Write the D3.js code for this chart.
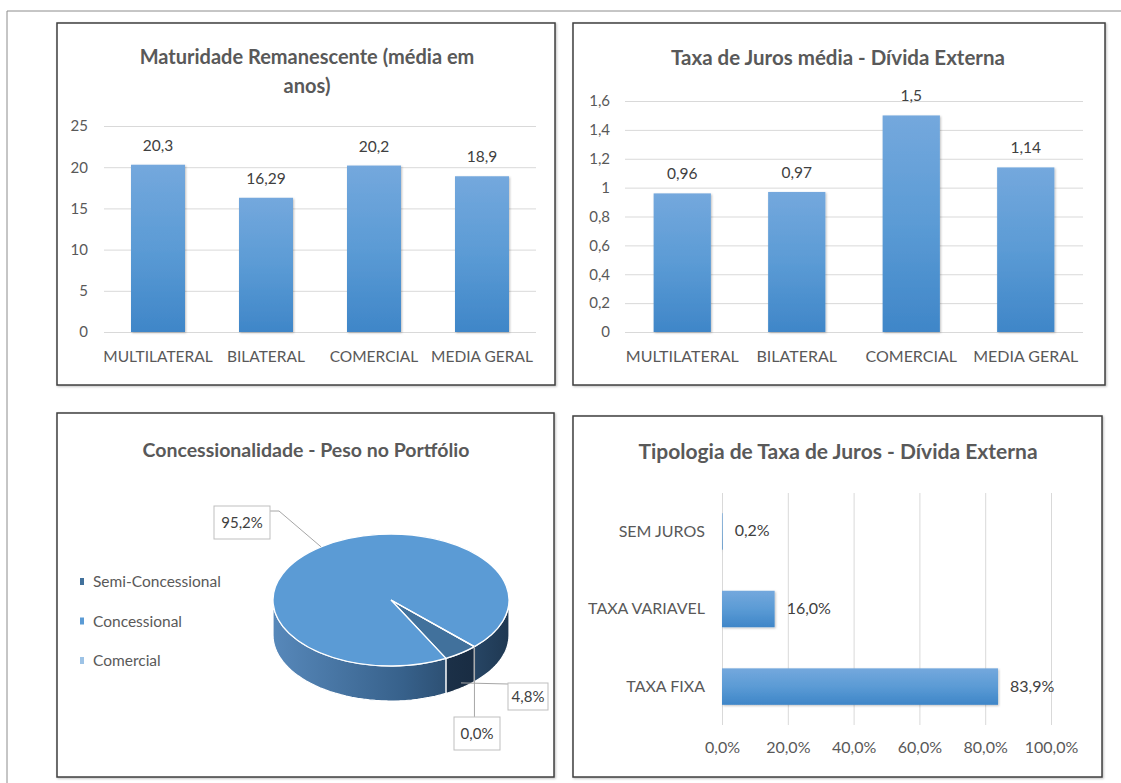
<!DOCTYPE html>
<html>
<head>
<meta charset="utf-8">
<script src="https://cdn.jsdelivr.net/npm/d3@7"></script>
<style>
  body { margin: 0; background: #fff; }
  text { font-family: Lato, "Open Sans", sans-serif; }
</style>
</head>
<body>
<div id="chart"></div>
<script>
// data
var matCats = ["MULTILATERAL", "BILATERAL", "COMERCIAL", "MEDIA GERAL"];
var matVals = [20.3, 16.29, 20.2, 18.9];
var matTicks = [0, 5, 10, 15, 20, 25];

var taxaCats = ["MULTILATERAL", "BILATERAL", "COMERCIAL", "MEDIA GERAL"];
var taxaVals = [0.96, 0.97, 1.5, 1.14];
var taxaTicks = [0, 0.2, 0.4, 0.6, 0.8, 1, 1.2, 1.4, 1.6];

var concNames = ["Semi-Concessional", "Concessional", "Comercial"];
var concVals = [4.8, 95.2, 0.0];
var concColors = ["#41719c", "#5b9bd5", "#9dc3e6"];

var tipCats = ["SEM JUROS", "TAXA VARIAVEL", "TAXA FIXA"];
var tipVals = [0.2, 16.0, 83.9];
var tipTicks = [0, 20, 40, 60, 80, 100];

var W = 1121, H = 783;
var txt = "#595959";

var svg = d3.select('#chart')
            .append('svg')
            .attr('width', W)
            .attr('height', H);

var defs = svg.append('defs');

var gv = defs.append('linearGradient').attr('id', 'barGrad')
             .attr('x1', 0).attr('y1', 0).attr('x2', 0).attr('y2', 1);
gv.append('stop').attr('offset', '0%').attr('stop-color', '#74a8dd');
gv.append('stop').attr('offset', '50%').attr('stop-color', '#5b9bd5');
gv.append('stop').attr('offset', '100%').attr('stop-color', '#3f86c8');

var sh = defs.append('filter').attr('id', 'shadow')
             .attr('x', '-20%').attr('y', '-20%').attr('width', '140%').attr('height', '140%');
sh.append('feDropShadow').attr('dx', 1).attr('dy', 1).attr('stdDeviation', 1.2)
  .attr('flood-color', '#000').attr('flood-opacity', 0.25);

function comma(v) { return String(v).replace('.', ','); }
function pct(v) { return d3.format('.1f')(v).replace('.', ',') + '%'; }

// outer frame
svg.append('line').attr('x1', 7).attr('y1', 11).attr('x2', W).attr('y2', 11)
   .attr('stroke', '#8c8c8c').attr('stroke-width', 1);
svg.append('line').attr('x1', 7).attr('y1', 11).attr('x2', 7).attr('y2', H)
   .attr('stroke', '#8c8c8c').attr('stroke-width', 1);

function panel(x, y, w, h) {
    svg.append('rect').attr('x', x).attr('y', y).attr('width', w).attr('height', h)
       .attr('fill', '#fff').attr('stroke', '#3f3f3f').attr('stroke-width', 1.5)
       .attr('filter', 'url(#shadow)');
}

function title(lines, cx, y0, size) {
    lines.forEach(function(t, i) {
        svg.append('text').attr('x', cx).attr('y', y0 + i * 29)
           .attr('text-anchor', 'middle')
           .style('font-size', size + 'px').style('font-weight', 'bold')
           .style('fill', txt).text(t);
    });
}

function vbars(cats, vals, ticks, x0, x1, yTop, yBot, yMax, padL, catSize) {
    var x = d3.scaleBand().domain(cats).range([x0, x1])
              .paddingInner(0.5).paddingOuter(0.25);
    var y = d3.scaleLinear().domain([0, yMax]).range([yBot, yTop]);
    var g = svg.append('g');

    var yAxis = d3.axisLeft(y).tickValues(ticks).tickSize(-(x1 - x0))
                  .tickPadding(padL).tickFormat(comma);
    g.append('g').attr('transform', 'translate(' + x0 + ',0)').call(yAxis)
     .call(function(a) {
         a.select('.domain').remove();
         a.selectAll('line').attr('stroke', '#d9d9d9');
         a.selectAll('text').style('font-size', '15px').style('fill', txt)
          .style('font-family', 'Lato, sans-serif');
     });

    var xAxis = d3.axisBottom(x).tickSize(0).tickPadding(19);
    g.append('g').attr('transform', 'translate(0,' + yBot + ')').call(xAxis)
     .call(function(a) {
         a.select('.domain').remove();
         a.selectAll('text').style('font-size', catSize + 'px').style('fill', txt)
          .style('font-family', 'Lato, sans-serif');
     });

    g.selectAll('rect.bar').data(vals).enter().append('rect')
     .attr('class', 'bar')
     .attr('x', function(d, i) { return x(cats[i]); })
     .attr('y', function(d) { return y(d); })
     .attr('width', x.bandwidth())
     .attr('height', function(d) { return yBot - y(d); })
     .attr('fill', 'url(#barGrad)')
     .attr('filter', 'url(#shadow)');

    g.selectAll('text.val').data(vals).enter().append('text')
     .attr('class', 'val')
     .attr('x', function(d, i) { return x(cats[i]) + x.bandwidth() / 2; })
     .attr('y', function(d) { return y(d) - 14; })
     .attr('text-anchor', 'middle')
     .style('font-size', '15.5px').style('fill', '#404040')
     .text(comma);
}

// panel 1 - maturidade
panel(57, 23, 498, 362);
title(["Maturidade Remanescente (média em", "anos)"], 307, 64, 20);
vbars(matCats, matVals, matTicks, 104, 536, 126, 332, 25, 16, 15.5);

// panel 2 - taxa de juros media
panel(573, 23, 532, 362);
title(["Taxa de Juros média - Dívida Externa"], 838, 65, 20.5);
vbars(taxaCats, taxaVals, taxaTicks, 625, 1083, 101, 332, 1.6, 15, 16);

// panel 3 - concessionalidade (3D pie)
panel(57, 413, 497, 364);
title(["Concessionalidade - Peso no Portfólio"], 306, 457, 19.5);

legendItems = svg.append('g');
concNames.forEach(function(n, i) {
    var ly = 582 + i * 39.5;
    legendItems.append('rect').attr('x', 80).attr('y', ly - 4).attr('width', 4).attr('height', 7)
               .attr('fill', concColors[i]);
    legendItems.append('text').attr('x', 93).attr('y', ly + 5)
               .style('font-size', '15.5px').style('fill', txt).text(n);
});

var cx = 391, cy = 600, rx = 118, ry = 66, depth = 35;
var start = 3 * Math.PI / 4;
var pie = d3.pie().sort(null).startAngle(start).endAngle(start + 2 * Math.PI);
var arcs = pie(concVals);

function ept(a, dy) {
    return [cx + rx * Math.sin(a), cy - ry * Math.cos(a) + (dy || 0)];
}

var sg = defs.append('linearGradient').attr('id', 'sideGrad')
             .attr('gradientUnits', 'userSpaceOnUse')
             .attr('x1', cx - rx).attr('y1', 0).attr('x2', cx + rx).attr('y2', 0);
sg.append('stop').attr('offset', '0%').attr('stop-color', '#5788ba');
sg.append('stop').attr('offset', '55%').attr('stop-color', '#37618b');
sg.append('stop').attr('offset', '100%').attr('stop-color', '#1f3852');
var sg2 = defs.append('linearGradient').attr('id', 'sideGrad2')
              .attr('gradientUnits', 'userSpaceOnUse')
              .attr('x1', cx - rx).attr('y1', 0).attr('x2', cx + rx).attr('y2', 0);
sg2.append('stop').attr('offset', '0%').attr('stop-color', '#2a4a6c');
sg2.append('stop').attr('offset', '100%').attr('stop-color', '#16273b');

// visible front wall of a slice
function sidePaths(a0, a1) {
    var out = [];
    [[Math.PI / 2, 3 * Math.PI / 2], [5 * Math.PI / 2, 7 * Math.PI / 2]].forEach(function(v) {
        var s = Math.max(a0, v[0]), e = Math.min(a1, v[1]);
        if (e - s <= 0.0001) return;
        var n = 40, top = [], bot = [];
        for (var k = 0; k <= n; k++) {
            var a = s + (e - s) * k / n;
            top.push(ept(a));
            bot.push(ept(a, depth));
        }
        out.push('M' + top.map(function(p) { return p.join(','); }).join('L') +
                 'L' + bot.reverse().map(function(p) { return p.join(','); }).join('L') + 'Z');
    });
    return out;
}

var pieG = svg.append('g');
arcs.forEach(function(d, i) {
    sidePaths(d.startAngle, d.endAngle).forEach(function(p) {
        pieG.append('path').attr('d', p)
            .attr('fill', i == 0 ? 'url(#sideGrad2)' : 'url(#sideGrad)')
            .attr('stroke', '#fff').attr('stroke-width', 1.2);
    });
});

var arc = d3.arc().innerRadius(0).outerRadius(rx);
pieG.append('g')
    .attr('transform', 'translate(' + cx + ',' + cy + ') scale(1,' + (ry / rx) + ')')
    .selectAll('path').data(arcs).enter().append('path')
    .attr('d', arc)
    .attr('fill', function(d, i) { return concColors[i]; })
    .attr('stroke', '#fff').attr('stroke-width', 1.3)
    .attr('vector-effect', 'non-scaling-stroke');

// data labels with leader lines
var labelBoxes = [
    {x: 508, y: 683, w: 40, h: 27, line: function(d) {
        var m = (d.startAngle + d.endAngle) / 2, p = ept(m, depth * 0.85);
        return [[508, 684], p];
    }},
    {x: 214, y: 506, w: 56, h: 33, line: function(d) {
        var m = (d.startAngle + d.endAngle) / 2, p = ept(m);
        return [[270, 511], [279, 511], p];
    }},
    {x: 454, y: 717, w: 46, h: 33, line: function(d) {
        var p = ept(d.startAngle);
        return [[p[0], 717], p];
    }}
];
arcs.forEach(function(d, i) {
    var b = labelBoxes[i];
    pieG.append('path').attr('d', d3.line()(b.line(d)))
        .attr('fill', 'none').attr('stroke', '#a6a6a6').attr('stroke-width', 1);
    pieG.append('rect').attr('x', b.x).attr('y', b.y).attr('width', b.w).attr('height', b.h)
        .attr('fill', '#fff').attr('stroke', '#bfbfbf');
    pieG.append('text').attr('x', b.x + b.w / 2).attr('y', b.y + b.h / 2 + 5)
        .attr('text-anchor', 'middle').style('font-size', '15px').style('fill', '#404040')
        .text(pct(d.data));
});

// panel 4 - tipologia (horizontal bars)
panel(573, 416, 529, 361);
title(["Tipologia de Taxa de Juros - Dívida Externa"], 838, 459, 21);

var hx = d3.scaleLinear().domain([0, 100]).range([722, 1051]);
var hy = d3.scaleBand().domain(tipCats).range([493, 725]).paddingInner(0.53).paddingOuter(0.26);
var hg = svg.append('g');

hg.append('g').attr('transform', 'translate(0,725)')
  .call(d3.axisBottom(hx).tickValues(tipTicks).tickSize(-(725 - 493)).tickPadding(17)
          .tickFormat(pct))
  .call(function(a) {
      a.select('.domain').remove();
      a.selectAll('line').attr('stroke', '#d9d9d9');
      a.selectAll('text').style('font-size', '16px').style('fill', txt)
       .style('font-family', 'Lato, sans-serif');
  });

hg.append('g').attr('transform', 'translate(722,0)')
  .call(d3.axisLeft(hy).tickSize(0).tickPadding(17))
  .call(function(a) {
      a.select('.domain').remove();
      a.selectAll('text').style('font-size', '16px').style('fill', txt)
       .style('font-family', 'Lato, sans-serif');
  });

hg.selectAll('rect.bar').data(tipVals).enter().append('rect')
  .attr('class', 'bar')
  .attr('x', hx(0))
  .attr('y', function(d, i) { return hy(tipCats[i]); })
  .attr('width', function(d) { return hx(d) - hx(0); })
  .attr('height', hy.bandwidth())
  .attr('fill', 'url(#barGrad)')
  .attr('filter', 'url(#shadow)');

hg.selectAll('text.val').data(tipVals).enter().append('text')
  .attr('class', 'val')
  .attr('x', function(d) { return hx(d) + 12; })
  .attr('y', function(d, i) { return hy(tipCats[i]) + hy.bandwidth() / 2 + 5; })
  .style('font-size', '16px').style('fill', '#404040')
  .text(pct);
</script>
</body>
</html>
